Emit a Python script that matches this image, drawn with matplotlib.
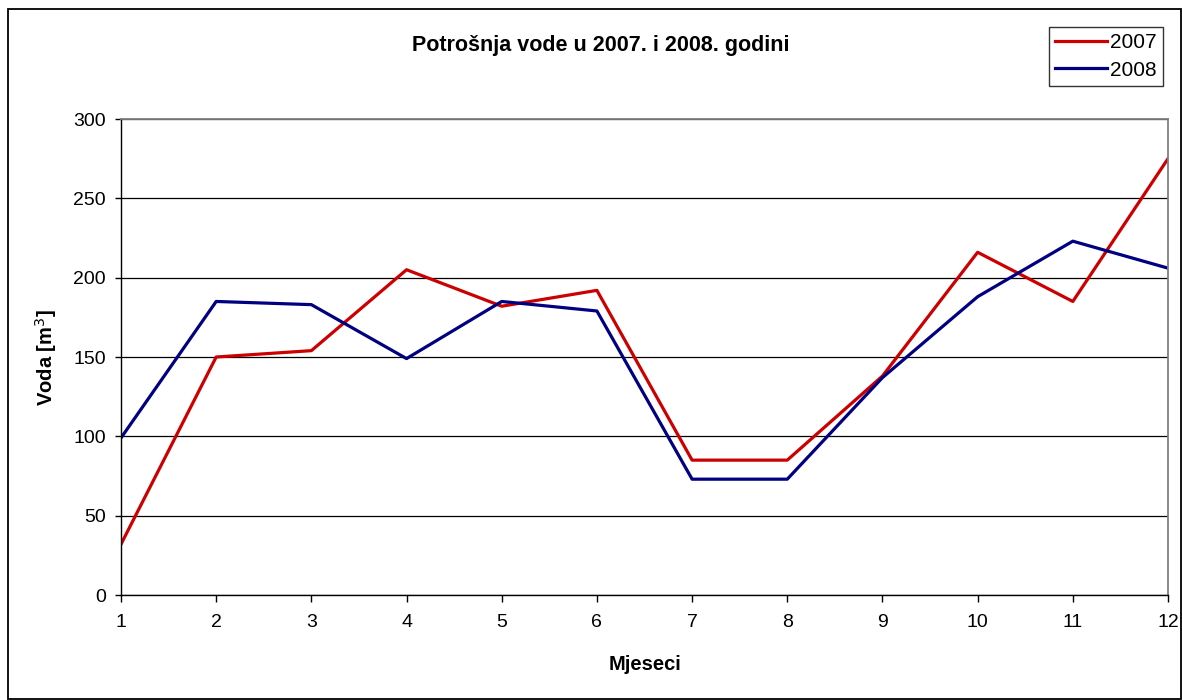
import numpy as np
import matplotlib.pyplot as plt
from matplotlib.patches import Rectangle

plt.rcParams['font.family'] = ['Liberation Sans', 'DejaVu Sans']

# podaci
mjeseci = [1, 2, 3, 4, 5, 6, 7, 8, 9, 10, 11, 12]
voda_2007 = [32, 150, 154, 205, 182, 192, 85, 85, 138, 216, 185, 275]
voda_2008 = [99, 185, 183, 149, 185, 179, 73, 73, 137, 188, 223, 206]
y_ticks = [0, 50, 100, 150, 200, 250, 300]

W, H = 1182, 700
fig = plt.figure(figsize=(W / 100, H / 100), dpi=100)
ax = fig.add_axes([121 / W, 105 / H, 1047 / W, 476 / H])

ax.plot(mjeseci, voda_2007, color='#cc0000', lw=2.3, label='2007')
ax.plot(mjeseci, voda_2008, color='#000080', lw=2.3, label='2008')

ax.set_xlim(1, 12)
ax.set_ylim(0, 300)
ax.set_xticks(mjeseci)
ax.set_yticks(y_ticks)
ax.tick_params(axis='x', labelsize=14, direction='out', length=5, width=1, pad=9)
ax.tick_params(axis='y', labelsize=14, direction='out', length=4, width=1, pad=7)
ax.grid(axis='y', color='black', lw=0.9)
ax.set_axisbelow(True)

for s in ['top', 'right']:
    ax.spines[s].set_color('#808080')
    ax.spines[s].set_linewidth(1.3)
for s in ['left', 'bottom']:
    ax.spines[s].set_color('black')
    ax.spines[s].set_linewidth(1.0)

# naslovi
fig.text(601 / W, 1 - 51 / H, 'Potrošnja vode u 2007. i 2008. godini',
         ha='center', va='baseline', fontsize=15.5, fontweight='bold')
fig.text(645 / W, 1 - 670 / H, 'Mjeseci', ha='center', va='baseline',
         fontsize=14.5, fontweight='bold')
fig.text(46 / W, 1 - 358 / H, 'Voda [m$^3$]', ha='center', va='center',
         rotation=90, fontsize=14.5, fontweight='bold')

leg = fig.legend(loc='upper right', bbox_to_anchor=(1163 / W, 1 - 27 / H),
                 fontsize=15, frameon=True, fancybox=False, handlelength=2.5,
                 handletextpad=0.15, borderpad=0.3, labelspacing=0.4, borderaxespad=0)
leg.get_frame().set_edgecolor('black')
leg.get_frame().set_linewidth(1.0)

# okvir oko cijelog grafikona
fig.patches.append(Rectangle((7.5 / W, 1 / H), 1173 / W, 690 / H,
                             transform=fig.transFigure, fill=False,
                             edgecolor='black', lw=1.3))

fig.savefig('out.png', dpi=100)
